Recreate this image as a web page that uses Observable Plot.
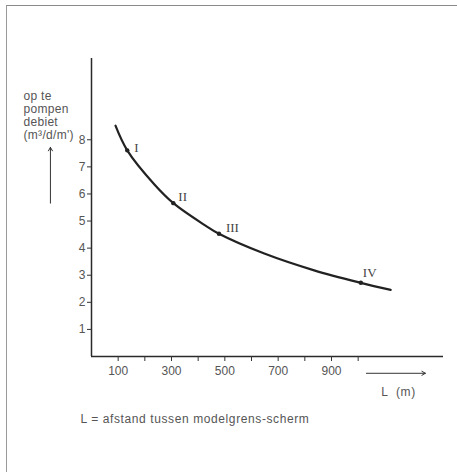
<!DOCTYPE html>
<html>
<head>
<meta charset="utf-8">
<script src="https://cdn.jsdelivr.net/npm/d3@7"></script>
<script src="https://cdn.jsdelivr.net/npm/@observablehq/plot@0.6"></script>
<style>
  html, body { margin: 0; padding: 0; background: #fff; }
  #wrap { position: relative; width: 457px; height: 472px; overflow: hidden; }
  #border { position: absolute; left: 6px; top: 5px; width: 460px; height: 480px;
            border-top: 1.5px solid #8a8a8a; border-left: 1.5px solid #9a9a9a; }
  .spaced text { letter-spacing: 0.6px; }
  .spaced2 text { letter-spacing: 0.3px; }
</style>
</head>
<body>
<div id="wrap"><div id="border"></div></div>
<script>
// Curve: L (m) versus pumped discharge (m3/d/m')
const curveL = [90, 134, 236, 307, 423, 478, 648, 835, 1010, 1122];
const curveQ = [8.52, 7.61, 6.35, 5.66, 4.86, 4.53, 3.80, 3.18, 2.72, 2.46];

// Marked points
const pointNames = ["I", "II", "III", "IV"];
const pointL = [134, 307, 478, 1010];
const pointQ = [7.61, 5.66, 4.53, 2.72];

// Ticks
const xTicks = [100, 200, 300, 400, 500, 600, 700, 800, 900, 1000];
const xTickLabels = ["100", "", "300", "", "500", "", "700", "", "900", ""];
const yTicks = [1, 2, 3, 4, 5, 6, 7, 8];

// Texts
const yTitle = "op te\npompen\ndebiet\n(m³/d/m')";
const xTitle = "L  (m)";
const footnote = "L = afstand tussen modelgrens-scherm";

const curve = curveL.map((l, i) => ({L: l, Q: curveQ[i]}));
const points = pointNames.map((n, i) => ({name: n, L: pointL[i], Q: pointQ[i]}));
const labelOffsets = [[7, -3], [5, -6], [7, -6], [2, -10]];

const sans = "'Liberation Sans', Arial, sans-serif";

const chart = Plot.plot({
  width: 457,
  height: 472,
  marginLeft: 91,
  marginRight: 14,
  marginTop: 58,
  marginBottom: 116,
  style: {fontFamily: sans, fontSize: "12px", color: "#3a3a3a", background: "transparent"},
  x: {domain: [0, 1320]},
  y: {domain: [0, 11]},
  marks: [
    Plot.ruleX([0], {stroke: "#2a2a2a", strokeWidth: 1.5}),
    Plot.ruleY([0], {stroke: "#2a2a2a", strokeWidth: 1.5}),
    Plot.axisX({ticks: xTicks, tickSize: 5, tickPadding: 5,
      tickFormat: d => xTickLabels[xTicks.indexOf(d)], fontSize: 12, fill: "#555", stroke: "#333"}),
    Plot.axisY({ticks: yTicks, tickSize: 4, tickPadding: 2, fontSize: 12, fill: "#555", stroke: "#333"}),
    Plot.line(curve, {x: "L", y: "Q", curve: "catmull-rom", stroke: "#222", strokeWidth: 2.2}),
    Plot.dot(points, {x: "L", y: "Q", r: 2.2, fill: "#222"}),
    ...points.map((p, i) => Plot.text([p], {x: "L", y: "Q", text: "name",
      textAnchor: "start", dx: labelOffsets[i][0], dy: labelOffsets[i][1],
      fontFamily: "'Liberation Serif', 'Times New Roman', serif", fontSize: 13, fill: "#444"})),
    // y title + upward arrow
    Plot.text([yTitle], {frameAnchor: "top-left", dx: -68, dy: 32, textAnchor: "start",
      lineAnchor: "top", lineHeight: 1.08, fontSize: 12, fill: "#555", className: "spaced2"}),
    Plot.arrow([{x1: -154, y1: 5.66, x2: -154, y2: 7.72}],
      {x1: "x1", y1: "y1", x2: "x2", y2: "y2", stroke: "#333", strokeWidth: 1, headLength: 6, clip: false}),
    // x title + arrow
    Plot.arrow([{x1: 1031, y1: -0.62, x2: 1252, y2: -0.62}],
      {x1: "x1", y1: "y1", x2: "x2", y2: "y2", stroke: "#333", strokeWidth: 1, headLength: 6, clip: false}),
    Plot.text([xTitle], {frameAnchor: "bottom-left", dx: 307, dy: 39, textAnchor: "middle",
      fontSize: 12, fill: "#555", className: "spaced"}),
    Plot.text([footnote], {frameAnchor: "bottom-left", dx: -11, dy: 66, textAnchor: "start",
      fontSize: 12, fill: "#555", className: "spaced"})
  ]
});
chart.style.position = "absolute";
chart.style.left = "0";
chart.style.top = "0";
document.getElementById("wrap").appendChild(chart);
</script>
</body>
</html>
